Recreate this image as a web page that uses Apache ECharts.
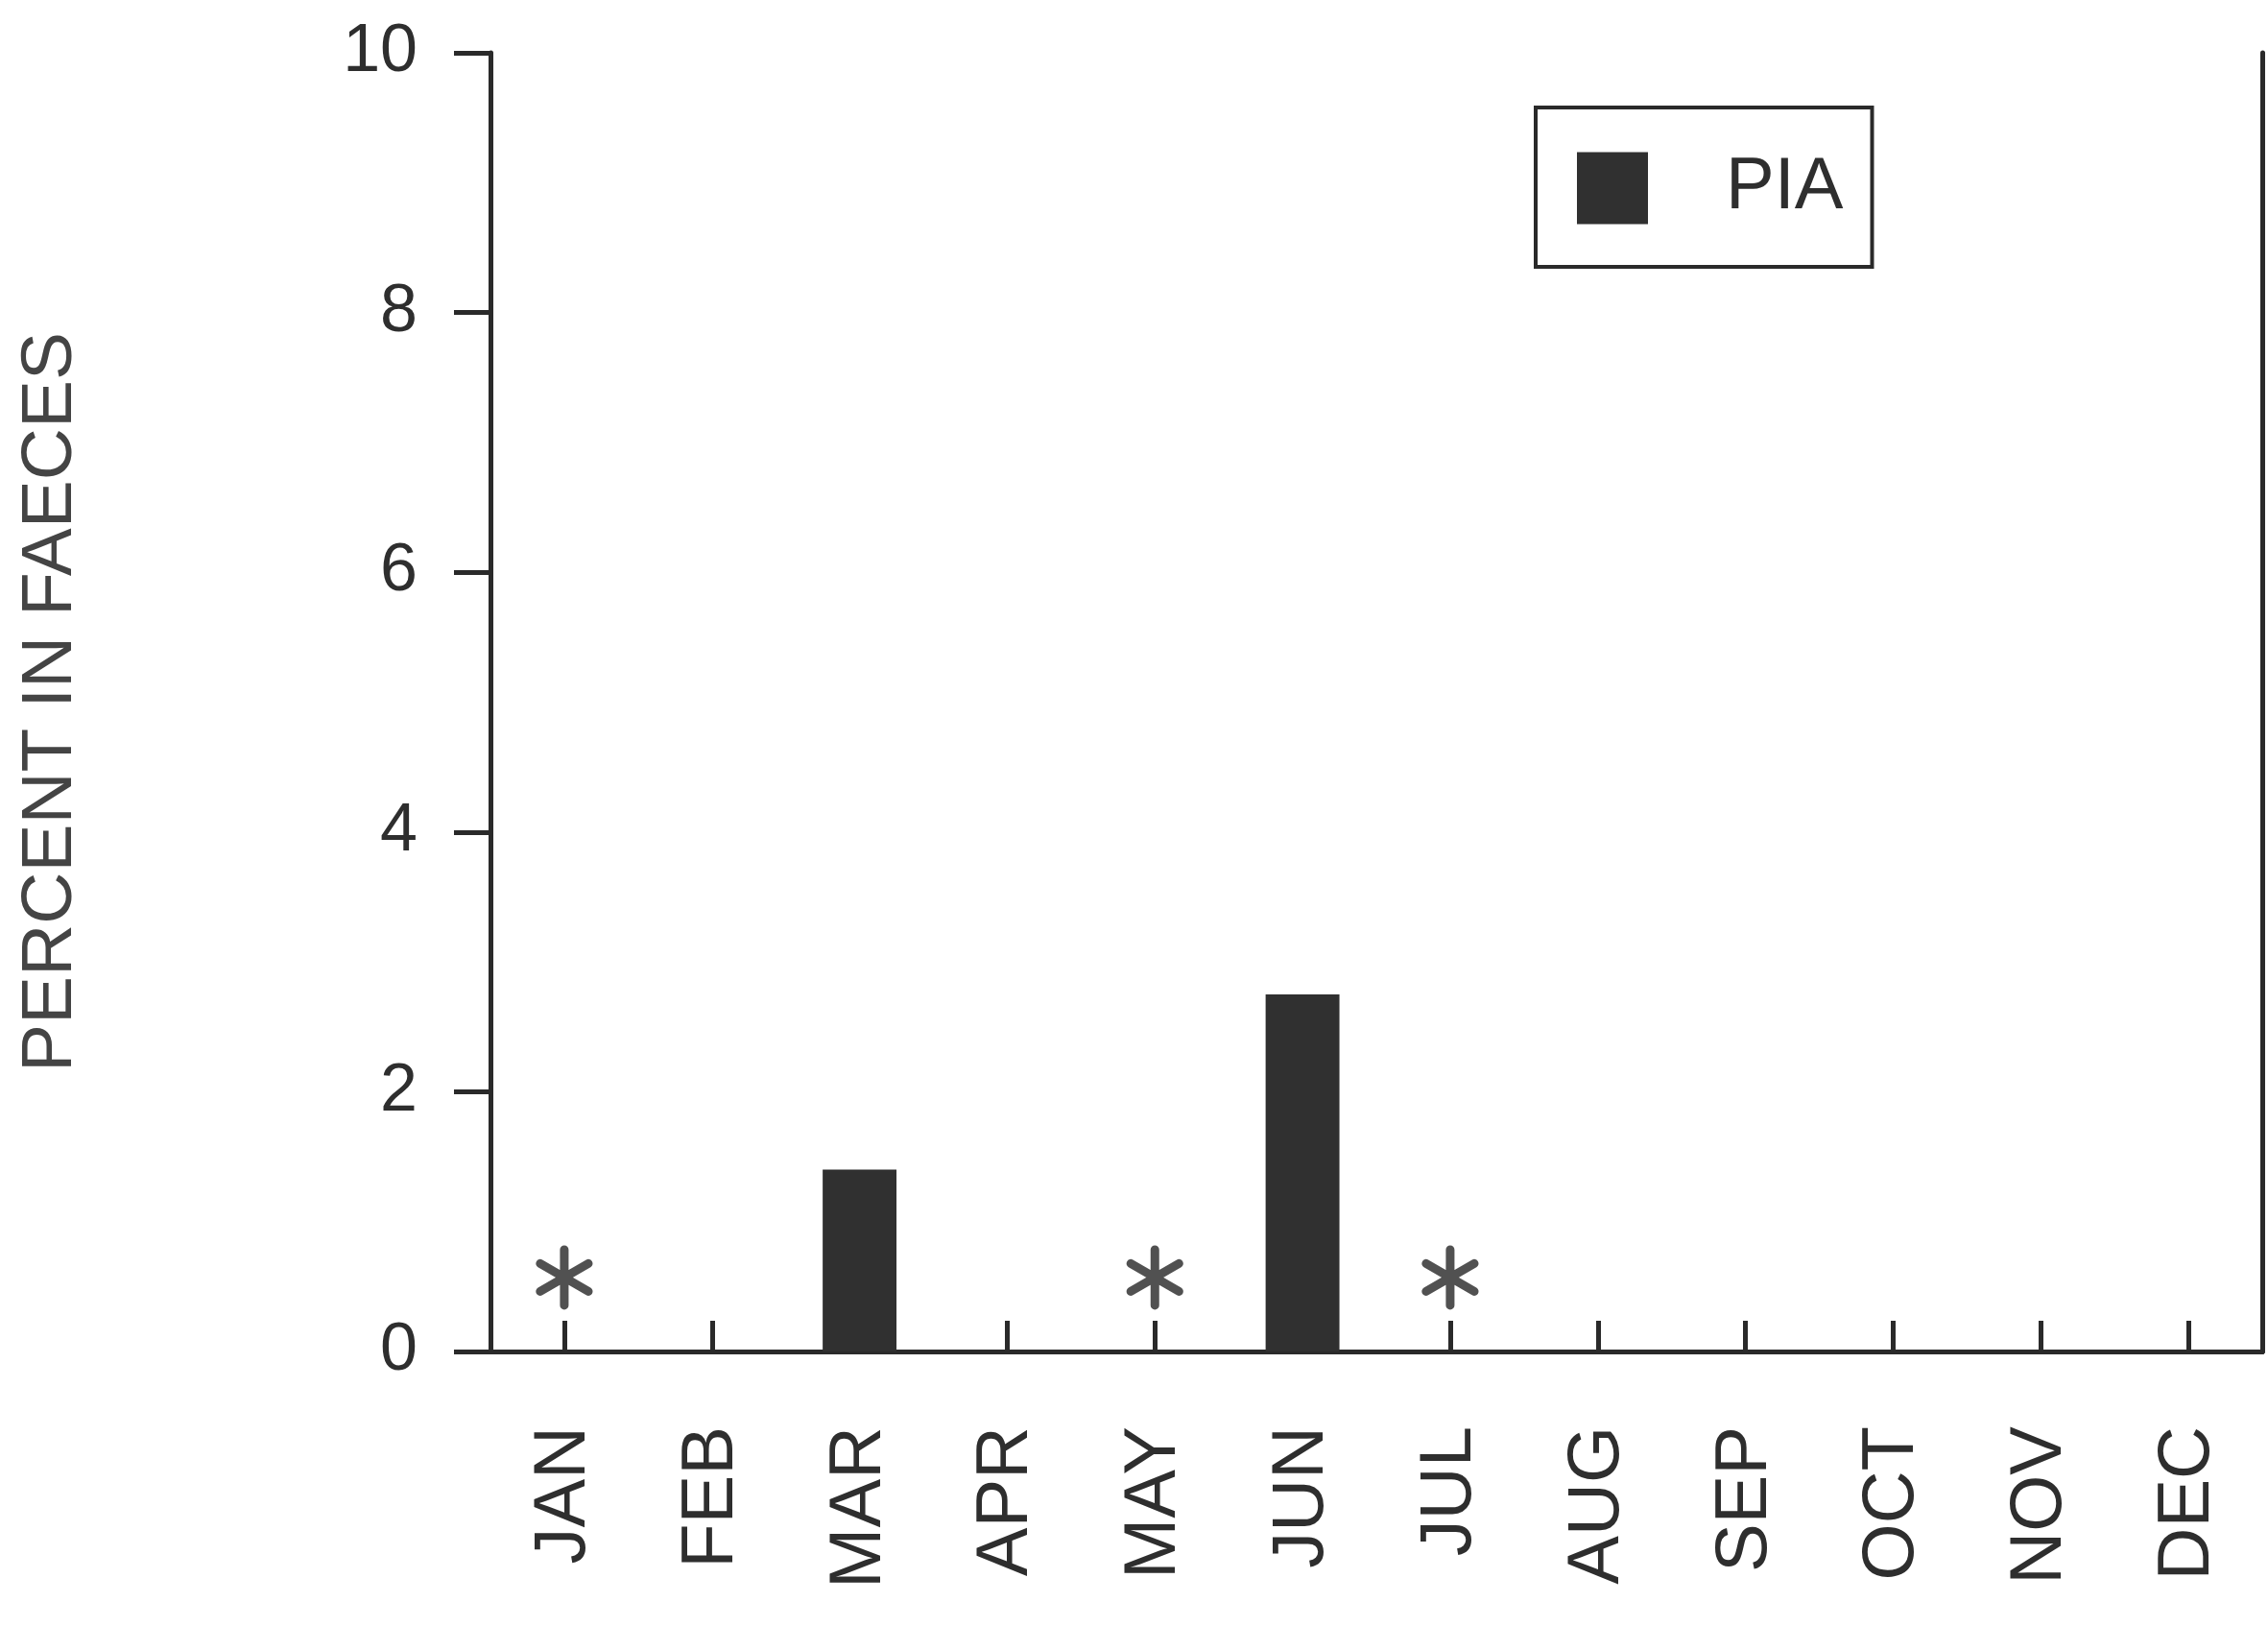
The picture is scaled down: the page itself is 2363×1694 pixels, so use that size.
<!DOCTYPE html>
<html>
<head>
<meta charset="utf-8">
<script src="https://cdn.jsdelivr.net/npm/echarts@6/dist/echarts.min.js"></script>
<style>
html,body{margin:0;padding:0;background:#fff;}
#chart{width:2363px;height:1694px;}
</style>
</head>
<body>
<div id="chart"></div>
<script>
// Data
var months = ['JAN','FEB','MAR','APR','MAY','JUN','JUL','AUG','SEP','OCT','NOV','DEC'];
var piaValues = [null, null, 1.4, null, null, 2.75, null, null, null, null, null, null];
var asteriskMarks = [0.57, null, null, null, 0.57, null, 0.57, null, null, null, null, null];
var yTicks = [0, 2, 4, 6, 8, 10];
var seriesName = 'PIA';
var yTitle = 'PERCENT IN FAECES';

var ink = '#2a2a2a';
var font = 'Liberation Sans, Arial, Helvetica, sans-serif';

var chart = echarts.init(document.getElementById('chart'));
chart.setOption({
  backgroundColor: '#ffffff',
  animation: false,
  grid: { left: 511, right: 6, top: 55, bottom: 286 },
  legend: {
    data: [seriesName],
    left: 1600, top: 112,
    orient: 'horizontal',
    icon: 'rect',
    itemWidth: 74, itemHeight: 75,
    padding: [46, 30, 44, 43],
    borderColor: ink, borderWidth: 4,
    backgroundColor: '#fff',
    textStyle: { fontFamily: font, fontSize: 76, color: '#2e2e2e', padding: [0, 0, 0, 76] }
  },
  xAxis: [{
    type: 'category',
    data: months,
    boundaryGap: true,
    axisLine: { show: true, lineStyle: { color: ink, width: 5 } },
    axisTick: { show: true, inside: true, alignWithLabel: true, length: 32, lineStyle: { color: ink, width: 5 } },
    axisLabel: { rotate: 90, margin: 78, fontFamily: font, fontSize: 76, color: '#2e2e2e' },
    splitLine: { show: false }
  }, {
    type: 'category',
    data: months,
    position: 'top',
    axisLine: { show: true, lineStyle: { color: ink, width: 5 } },
    axisTick: { show: false },
    axisLabel: { show: false },
    splitLine: { show: false }
  }],
  yAxis: [{
    type: 'value',
    min: yTicks[0], max: yTicks[yTicks.length - 1], interval: 2,
    name: yTitle,
    nameLocation: 'middle',
    nameGap: 420,
    nameRotate: 90,
    nameTextStyle: { fontFamily: font, fontSize: 75, color: '#444' },
    axisLine: { show: true, lineStyle: { color: ink, width: 5 } },
    axisTick: { show: true, inside: false, length: 38, lineStyle: { color: ink, width: 5 } },
    axisLabel: { margin: 76, fontFamily: font, fontSize: 70, color: '#2e2e2e' },
    splitLine: { show: false }
  }, {
    type: 'value',
    position: 'right',
    min: yTicks[0], max: yTicks[yTicks.length - 1], interval: 2,
    axisLine: { show: true, lineStyle: { color: ink, width: 5 } },
    axisTick: { show: false },
    axisLabel: { show: false },
    splitLine: { show: false }
  }],
  series: [{
    name: seriesName,
    type: 'bar',
    data: piaValues,
    barWidth: '50%',
    itemStyle: { color: '#303030' }
  }, {
    name: 'marks',
    type: 'scatter',
    data: asteriskMarks,
    symbol: 'path://M0,-10L0,10M-8.66,-5L8.66,5M-8.66,5L8.66,-5',
    symbolKeepAspect: true,
    symbolSize: 58,
    itemStyle: { color: 'rgba(0,0,0,0)', borderColor: '#262626', borderWidth: 9, borderCap: 'round' },
    z: 5
  }]
});
</script>
</body>
</html>
